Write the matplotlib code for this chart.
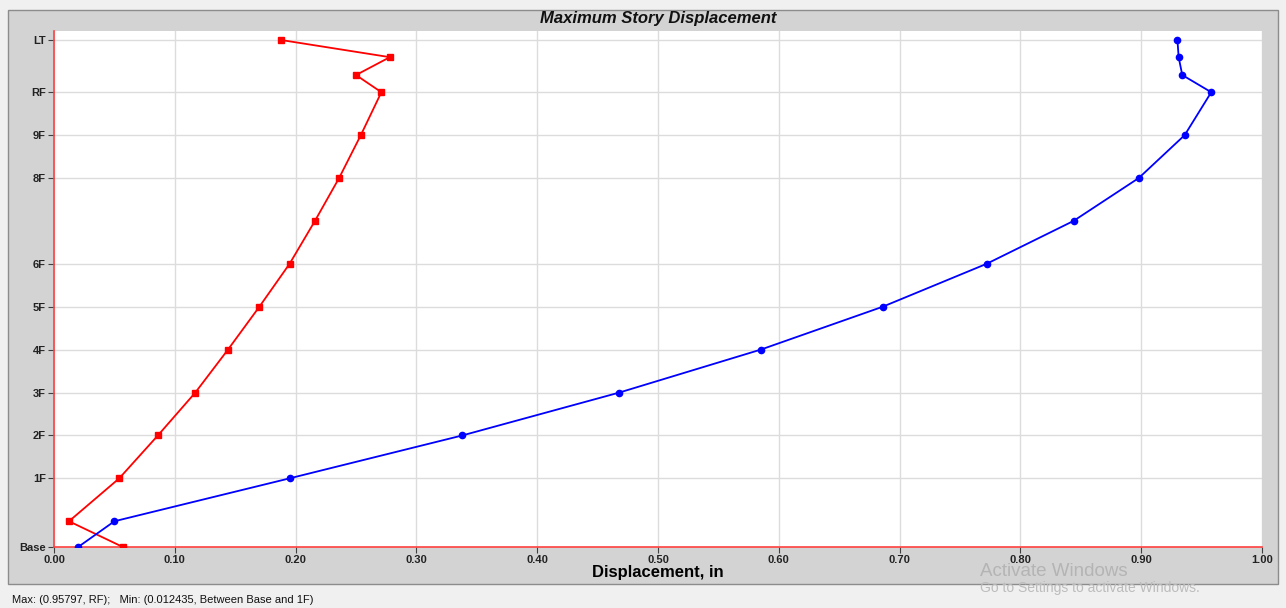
import numpy as np
import matplotlib.pyplot as plt
from matplotlib.patches import Rectangle

plt.rcParams['font.family'] = ['Liberation Sans', 'DejaVu Sans']

# story elevations (story height = 3.0), intermediate points are unlabeled
elev = [0.0, 1.8, 4.8, 7.8, 10.8, 13.8, 16.8, 19.8, 22.8, 25.8, 28.8, 31.8, 33.0, 34.25, 35.45]
tick_elev = [0.0, 4.8, 7.8, 10.8, 13.8, 16.8, 19.8, 25.8, 28.8, 31.8, 35.45]
tick_labels = ['Base', '1F', '2F', '3F', '4F', '5F', '6F', '8F', '9F', 'RF', 'LT']

disp_red = [0.057, 0.0124, 0.054, 0.086, 0.117, 0.144, 0.170, 0.195, 0.216,
            0.236, 0.254, 0.271, 0.250, 0.278, 0.188]
disp_blue = [0.020, 0.050, 0.195, 0.338, 0.468, 0.585, 0.686, 0.772, 0.844,
             0.898, 0.936, 0.958, 0.934, 0.931, 0.930]

W, H = 1286, 608
fig = plt.figure(figsize=(W / 100, H / 100), dpi=100)
fig.patch.set_facecolor('#f0f0f0')

# gray chart panel
fig.patches.append(Rectangle((8 / W, 1 - 584 / H), 1270 / W, 574 / H,
                             transform=fig.transFigure, facecolor='#d3d3d3',
                             edgecolor='#8c8c8c', linewidth=1.0, zorder=-5))

ax = fig.add_axes([54 / W, 1 - 547 / H, 1208 / W, 516 / H])
ax.set_zorder(1)
ax.set_facecolor('white')

ax.plot(disp_red, elev, color='red', lw=1.3, marker='s', ms=4.5, zorder=3)
ax.plot(disp_blue, elev, color='blue', lw=1.3, marker='o', ms=4.5, zorder=3)

ax.set_xlim(0, 1.0)
ax.set_ylim(0, 36.08)
ax.set_xticks(np.arange(0, 1.01, 0.1))
ax.set_xticklabels(['%.2f' % v for v in np.arange(0, 1.01, 0.1)])
ax.set_yticks(tick_elev)
ax.set_yticklabels(tick_labels)
ax.grid(True, color='#dcdcdc', lw=1.0, zorder=0)
ax.set_axisbelow(True)

for s in ['top', 'right']:
    ax.spines[s].set_visible(False)
for s in ['left', 'bottom']:
    ax.spines[s].set_color('#ff4040')
    ax.spines[s].set_linewidth(1.2)

ax.tick_params(axis='both', length=4, width=0.8, color='#404040',
               labelsize=8, labelcolor='#222222', pad=2)
for lab in ax.get_xticklabels() + ax.get_yticklabels():
    lab.set_fontweight('bold')

ax.set_xlabel('Displacement, in', fontsize=12, fontweight='bold', labelpad=0)

fig.text(658 / W, 1 - 19 / H, 'Maximum Story Displacement', ha='center', va='center',
         fontsize=12, fontweight='bold', fontstyle='italic', color='#111111')

fig.text(12 / W, 1 - 600 / H, 'Max: (0.95797, RF);   Min: (0.012435, Between Base and 1F)',
         ha='left', va='center', fontsize=8, color='#111111')

fig.text(980 / W, 1 - 572 / H, 'Activate Windows', ha='left', va='center',
         fontsize=13.5, color='#b4b4b4')
fig.text(980 / W, 1 - 588 / H, 'Go to Settings to activate Windows.', ha='left',
         va='center', fontsize=10, color='#bcbcbc')

fig.savefig('out.png', dpi=100, facecolor=fig.get_facecolor())
